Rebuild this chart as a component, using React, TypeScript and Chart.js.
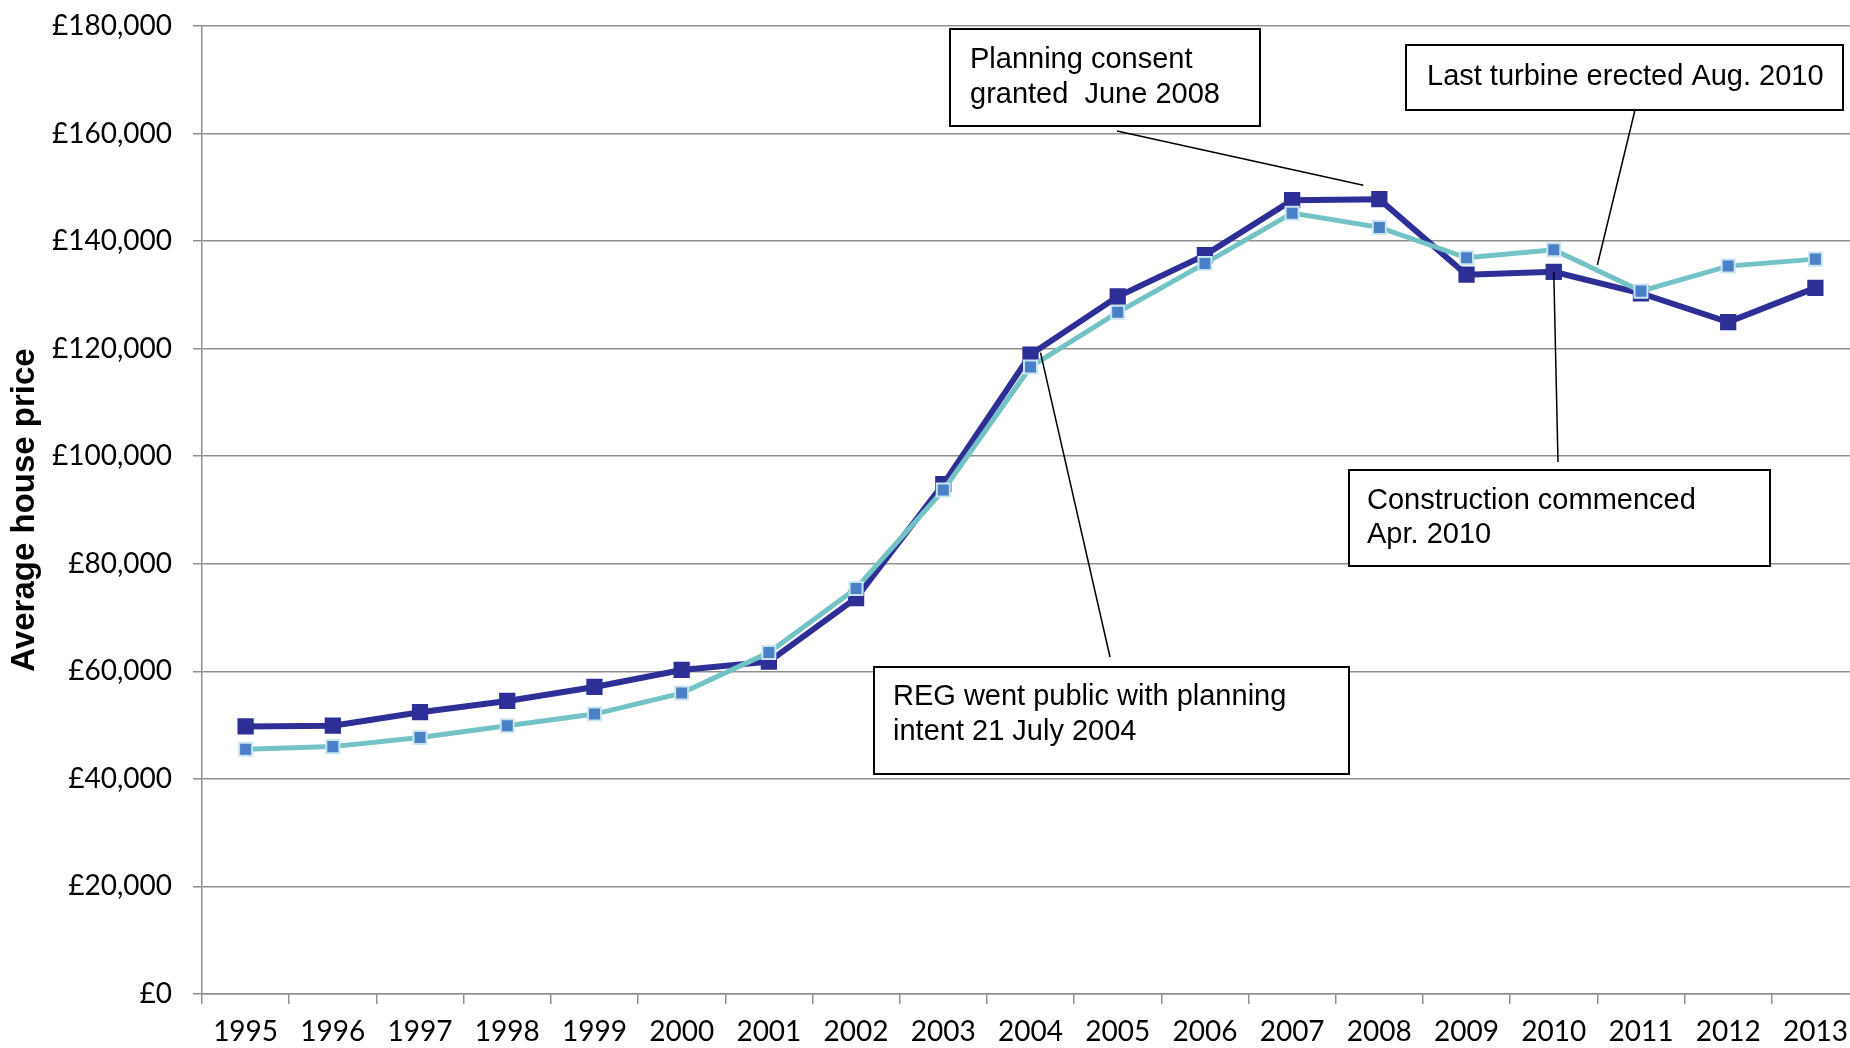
import React, { useEffect, useRef } from 'react';
import { Chart, registerables } from 'chart.js';

Chart.register(...registerables);

// ---------- data ----------
const years = [
  '1995', '1996', '1997', '1998', '1999', '2000', '2001', '2002', '2003', '2004',
  '2005', '2006', '2007', '2008', '2009', '2010', '2011', '2012', '2013',
];
// dark navy series
const localAverage = [
  49750, 49900, 52400, 54500, 57100, 60250, 61800, 73600, 94800, 118900,
  129700, 137400, 147600, 147800, 133750, 134300, 130300, 124950, 131300,
];
// teal series
const comparisonAverage = [
  45500, 46000, 47700, 49900, 52050, 55950, 63500, 75400, 93700, 116600,
  126750, 135850, 145200, 142550, 136900, 138400, 130700, 135350, 136650,
];
const yMin = 0;
const yMax = 180000;
const yStep = 20000;
const yTitle = 'Average house price';

const noteTexts = [
  ['Planning consent', 'granted  June 2008'],
  ['Last turbine erected Aug. 2010'],
  ['Construction commenced', 'Apr. 2010'],
  ['REG went public with planning', 'intent 21 July 2004'],
];

// ---------- layout / style ----------
const W = 1850;
const H = 1048;
const CANVAS_W = 1859;
const GRID = '#8f8f8f';
const NAVY = '#2e2f96';
const TEAL = '#72c2c6';
const MARK_BLUE = '#4a80c8';
const MARK_EDGE = '#c9e6f0';
const TICK_FONT = 'Lato, "Open Sans", sans-serif';
const NOTE_FONT = '29px "Liberation Sans", Arial, sans-serif';

type Anchor = { px?: [number, number]; index?: number; value?: number; dx?: number; dy?: number };
const notes: {
  text: string[];
  box: [number, number, number, number];
  tx: number;
  baselines: number[];
  leader: [Anchor, Anchor];
}[] = [
  {
    text: noteTexts[0], box: [950, 29, 310, 97], tx: 970, baselines: [68, 103],
    leader: [{ px: [1117, 131] }, { index: 13, value: localAverage[13], dx: -16, dy: -14 }],
  },
  {
    text: noteTexts[1], box: [1406, 45, 437, 65], tx: 1427, baselines: [85],
    leader: [{ px: [1635, 110] }, { index: 15.5, value: 135560 }],
  },
  {
    text: noteTexts[2], box: [1349, 470, 421, 96], tx: 1367, baselines: [509, 543],
    leader: [{ index: 15, value: localAverage[15] }, { px: [1558, 462] }],
  },
  {
    text: noteTexts[3], box: [874, 667, 475, 107], tx: 893, baselines: [705, 740],
    leader: [{ index: 9, value: localAverage[9], dx: 10, dy: -2 }, { px: [1110, 657] }],
  },
];

const notesPlugin = {
  id: 'notes',
  afterDraw(chart: any) {
    const ctx = chart.ctx as CanvasRenderingContext2D;
    const xs = chart.scales.x;
    const ys = chart.scales.y;
    const pos = (a: Anchor): [number, number] => {
      if (a.px) return a.px;
      return [
        xs.getPixelForValue(a.index as number) + (a.dx || 0),
        ys.getPixelForValue(a.value as number) + (a.dy || 0),
      ];
    };
    ctx.save();
    for (const n of notes) {
      const [p1, p2] = [pos(n.leader[0]), pos(n.leader[1])];
      ctx.strokeStyle = '#000';
      ctx.lineWidth = 1.5;
      ctx.beginPath();
      ctx.moveTo(p1[0], p1[1]);
      ctx.lineTo(p2[0], p2[1]);
      ctx.stroke();

      const [bx, by, bw, bh] = n.box;
      ctx.fillStyle = '#fff';
      ctx.fillRect(bx, by, bw, bh);
      ctx.lineWidth = 2;
      ctx.strokeRect(bx, by, bw, bh);
      ctx.fillStyle = '#000';
      ctx.font = NOTE_FONT;
      ctx.textAlign = 'left';
      ctx.textBaseline = 'alphabetic';
      n.text.forEach((t, i) => ctx.fillText(t, n.tx, n.baselines[i]));
    }
    ctx.restore();
  },
};

const zeroPad = (s: any) => {
  s.paddingTop = 0;
  s.paddingBottom = 0;
  s.paddingLeft = 0;
  s.paddingRight = 0;
};

export default function App() {
  const ref = useRef<HTMLCanvasElement>(null);

  useEffect(() => {
    if (!ref.current) return;
    const chart = new Chart(ref.current, {
      type: 'line',
      data: {
        labels: years,
        datasets: [
          {
            label: 'Comparison average',
            data: comparisonAverage,
            borderColor: TEAL,
            borderWidth: 5,
            backgroundColor: MARK_BLUE,
            pointStyle: 'rect',
            pointRadius: 9.2,
            pointBorderWidth: 2,
            pointBorderColor: MARK_EDGE,
            pointBackgroundColor: MARK_BLUE,
            tension: 0,
            order: 0,
          },
          {
            label: 'Local average',
            data: localAverage,
            borderColor: NAVY,
            borderWidth: 6,
            backgroundColor: NAVY,
            pointStyle: 'rect',
            pointRadius: 11.5,
            pointBorderWidth: 0,
            pointBackgroundColor: NAVY,
            tension: 0,
            order: 1,
          },
        ],
      },
      options: {
        animation: false,
        responsive: false,
        devicePixelRatio: 1,
        layout: { autoPadding: false, padding: { top: 26, left: 0, right: 0, bottom: 0 } },
        plugins: {
          legend: { display: false },
          tooltip: { enabled: false },
          title: { display: false },
        },
        scales: {
          x: {
            type: 'category',
            offset: true,
            afterFit: (s: any) => { s.height = 54; zeroPad(s); },
            grid: {
              display: true,
              drawOnChartArea: false,
              drawTicks: true,
              tickLength: 10,
              color: GRID,
              lineWidth: 1.5,
              offset: true,
            },
            border: { display: true, color: GRID, width: 1.5 },
            ticks: {
              color: '#000',
              padding: 11,
              maxRotation: 0,
              autoSkip: false,
              font: { family: TICK_FONT, size: 28 },
            },
          },
          y: {
            min: yMin,
            max: yMax,
            afterFit: (s: any) => { s.width = 202; zeroPad(s); },
            grid: {
              color: GRID,
              lineWidth: 1.5,
              drawTicks: true,
              tickLength: 9,
            },
            border: { display: true, color: GRID, width: 1.5 },
            ticks: {
              stepSize: yStep,
              color: '#000',
              padding: 21,
              font: { family: TICK_FONT, size: 28 },
              callback: (v: any) => '£' + Number(v).toLocaleString('en-GB'),
            },
            title: {
              display: true,
              text: yTitle,
              color: '#000',
              padding: { top: 5, bottom: 0 },
              font: { family: '"Liberation Sans", Arial, sans-serif', size: 33, weight: 'bold' },
            },
          },
        },
      },
      plugins: [notesPlugin],
    });
    return () => chart.destroy();
  }, []);

  return (
    <div style={{ position: 'absolute', left: 0, top: 0, width: W, height: H, overflow: 'hidden', background: '#fff' }}>
      <canvas ref={ref} width={CANVAS_W} height={H} style={{ display: 'block', width: CANVAS_W, height: H }} />
    </div>
  );
}
